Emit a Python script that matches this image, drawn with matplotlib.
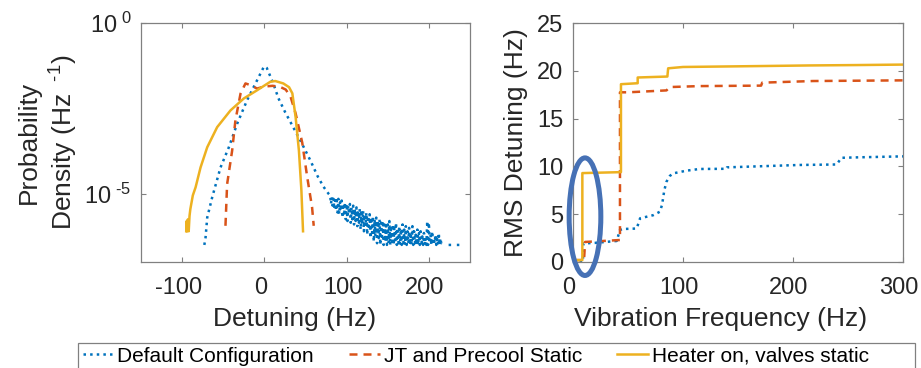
import numpy as np
import matplotlib
matplotlib.use('Agg')
import matplotlib.pyplot as plt
from matplotlib.patches import Ellipse, Rectangle
from matplotlib.ticker import FixedLocator, FixedFormatter, NullLocator
from matplotlib.transforms import ScaledTranslation

plt.rcParams['font.family'] = ['Liberation Sans', 'DejaVu Sans']
plt.rcParams['mathtext.fontset'] = 'custom'
plt.rcParams['mathtext.rm'] = 'Liberation Sans'
plt.rcParams['mathtext.it'] = 'Liberation Sans:italic'
plt.rcParams['axes.unicode_minus'] = False

# ---------------- data: left panel (detuning pdf, log10 of density) ----------------
nan = np.nan
blueCoreX = [-73, -71.5, -69.5, -63.4, -53.3, -43.2, -33.1, -21, -8.9, -1, 0, 3, 7, 11, 17, 25, 35, 45, 56, 65, 72, 78]
blueCoreLog = [-6.5, -6.28, -5.7, -5.1, -4.23, -3.64, -2.95, -2.26, -1.68, -1.3, -1.27, -1.32, -1.55, -1.78, -2.2, -2.6,
               -3.05, -3.5, -4.03, -4.5, -4.8, -5.0]
# noisy tail, one value per Hz from 80 to 216 Hz
blueTailX = list(range(80, 217))
blueTailLog = [-5.05, -5.30, -5.10, -5.35, -5.15, -5.45, -5.10, -5.50, -5.20, -5.55,
               -5.15, -5.60, -5.25, -5.50, -5.20, -5.70, -5.30, -5.65, -5.25, -5.75,
               -5.30, -5.80, -5.35, -5.60, -5.30, -5.85, -5.40, -5.75, -5.35, -5.90,
               -5.45, -5.80, -5.40, -5.95, -5.50, -5.85, -5.45, -6.05, -5.55, -5.90,
               -5.50, -6.10, -5.60, -5.95, -5.55, -6.20, -5.65, -6.05, -5.60, -6.30,
               -5.70, -6.15, -5.65, -6.40, -5.75, -6.25, -5.70, -6.45, -5.80, -6.30,
               -5.75, -6.50, -5.85, -6.35, -5.80, -6.50, -5.90, -6.40, -5.85, -6.50,
               -5.90, -6.45, -5.80, -6.50, -5.95, -6.40, -5.90, -6.50, -6.00, -6.45,
               -5.85, -6.50, -6.00, -6.45, -5.95, -6.50, -6.05, -6.50, -5.90, -6.45,
               -6.05, -6.50, -5.95, -6.50, -6.10, -6.45, -6.00, -6.50, -6.15, -6.50,
               -5.95, -6.50, -6.10, -6.45, -6.20, -6.50, -6.05, -6.50, -6.15, -6.50,
               -6.10, -6.45, -6.25, -6.50, -6.15, -6.50, -6.30, -6.50, -5.80, -6.50,
               -5.85, -6.45, -6.20, -6.50, -6.10, -6.50, -6.30, -6.45, -6.20, -6.50,
               -6.25, -6.50, -6.15, -6.50, -6.30, -6.45, -6.40]
# a few isolated low bins further out
blueFarX = [nan, 224, 228, nan, 234, 240]
blueFarLog = [nan, -6.5, -6.5, nan, -6.5, -6.5]

redDetX = [-47.3, -45.3, -39.2, -35.2, -29, -23, -17, -8.9, 0, 10, 19, 26, 32, 38, 46, 52, 58, 60]
redDetLog = [-5.94, -4.72, -3.74, -2.85, -2.07, -1.77, -1.82, -1.92, -1.86, -1.84, -1.87, -1.95, -2.17, -2.65, -3.5, -4.5, -5.4, -5.94]

yellowDetX = [-95, -94.5, -94, -93, -92, -91, -90, -87, -83.6, -77.6, -69.5, -57.4, -41.2, -25, -8.9, 7.3, 13.3, 23, 30, 34, 38, 42, 45, 47]
yellowDetLog = [-6.1, -5.8, -6.1, -5.75, -6.1, -5.65, -5.45, -5.05, -4.81, -4.23, -3.64, -3.05, -2.56, -2.21, -1.97, -1.72, -1.70, -1.77, -1.88, -2.06, -2.76, -3.74, -4.9, -6.1]

# ---------------- data: right panel (cumulative RMS detuning) ----------------
blueFreq = [0, 9, 9.5, 20, 39.7, 42.7, 45, 57.9, 61, 73, 79, 81, 83, 85, 88, 91, 103, 115, 139.5, 140, 206, 239.7, 244, 260, 300]
blueRms = [0, 0, 1.95, 2.0, 2.2, 3.35, 3.45, 3.5, 4.57, 4.9, 5.26, 6.0, 7.5, 8.4, 9.0, 9.27, 9.55, 9.73, 9.75, 9.9, 10.15, 10.2, 10.9, 10.95, 11.05]

redFreq = [0, 10, 11, 20, 42.7, 42.7, 50, 85, 88, 115, 171, 172, 218, 300]
redRms = [0.2, 0.2, 2.1, 2.15, 2.3, 17.75, 17.75, 17.95, 18.3, 18.4, 18.45, 18.76, 18.93, 19.0]

yellowFreq = [0, 8.5, 8.5, 43.6, 43.6, 58.8, 58.8, 85.8, 86.5, 100, 173, 215, 258, 300]
yellowRms = [0.2, 0.2, 9.3, 9.4, 18.6, 18.7, 19.3, 19.4, 20.26, 20.4, 20.5, 20.56, 20.6, 20.65]

labels = ['Default Configuration', 'JT and Precool Static', 'Heater on, valves static']
colors = ['#0072BD', '#D95319', '#EDB120']

# ---------------- figure ----------------
fig = plt.figure(figsize=(9.21, 3.68), dpi=100)
axL = fig.add_axes([141/921, 106/368, 329/921, 239/368])
axR = fig.add_axes([573/921, 106/368, 330/921, 239/368])

lw = 1.8
blueX = blueCoreX + blueTailX + blueFarX
blueLog = blueCoreLog + blueTailLog + blueFarLog
axL.plot(blueX, 10**np.array(blueLog), color=colors[0], lw=lw, ls=':')
axL.plot(redDetX, 10**np.array(redDetLog), color=colors[1], lw=lw, dashes=(3.2, 2.4))
axL.plot(yellowDetX, 10**np.array(yellowDetLog), color=colors[2], lw=lw)
axL.set_yscale('log')
axL.set_xlim(-150, 250)
axL.set_ylim(1e-7, 1)
axL.xaxis.set_major_locator(FixedLocator([-100, 0, 100, 200]))
axL.yaxis.set_major_locator(FixedLocator([1e-5, 1]))
axL.yaxis.set_major_formatter(FixedFormatter(['$10^{\\ \u2010 5}$', r'$10^{\ 0}$']))
axL.yaxis.set_minor_locator(NullLocator())
axL.set_xlabel('Detuning (Hz)', fontsize=19, color='#262626')
axL.set_ylabel('Probability\nDensity (Hz $^{\\ \u20101}$)', fontsize=19, color='#262626', linespacing=1.3)
axL.xaxis.set_label_coords(0.468, -0.19)
axL.yaxis.set_label_coords(-0.185, 0.5)

l1, = axR.plot(blueFreq, blueRms, color=colors[0], lw=lw, ls=':')
l2, = axR.plot(redFreq, redRms, color=colors[1], lw=lw, dashes=(3.2, 2.4))
l3, = axR.plot(yellowFreq, yellowRms, color=colors[2], lw=lw)
axR.set_xlim(0, 300)
axR.set_ylim(0, 25)
axR.set_xticks([0, 100, 200, 300])
axR.set_yticks([0, 5, 10, 15, 20, 25])
axR.set_xlabel('Vibration Frequency (Hz)', fontsize=19, color='#262626')
axR.set_ylabel('RMS Detuning (Hz)', fontsize=19, color='#262626')
axR.xaxis.set_label_coords(0.447, -0.19)
axR.yaxis.set_label_coords(-0.136, 0.5)

# highlight ellipse around the low frequency jump
ell = Ellipse((10.9, 4.74), width=28.8, height=12.3, fill=False, lw=3.6, ec='#4671B5', clip_on=False, zorder=5)
axR.add_patch(ell)

shiftLeft = ScaledTranslation(-4/100, 0, fig.dpi_scale_trans)
for ax in (axL, axR):
    for s in ax.spines.values():
        s.set_color('#808080')
        s.set_linewidth(0.9)
    ax.tick_params(which='both', direction='in', top=True, right=True, length=3.5,
                   color='#808080', labelsize=17, labelcolor='#262626')
    ax.tick_params(axis='x', pad=11)
    ax.tick_params(axis='y', pad=7)
    for lab in ax.get_xticklabels():
        lab.set_transform(lab.get_transform() + shiftLeft)

# legend without frame + separate box that runs off the bottom edge
fig.legend(handles=[l1, l2, l3], labels=labels, loc='center left',
           bbox_to_anchor=(83/921, 12/368), ncol=3, frameon=False,
           fontsize=15, handlelength=1.45, handletextpad=0.2, columnspacing=1.7,
           borderaxespad=0, borderpad=0)
fig.add_artist(Rectangle((78/921, -0.02), 837/921, 25/368 + 0.02, transform=fig.transFigure,
                         fill=False, ec='#808080', lw=0.9))

fig.savefig('out.png', dpi=100)
